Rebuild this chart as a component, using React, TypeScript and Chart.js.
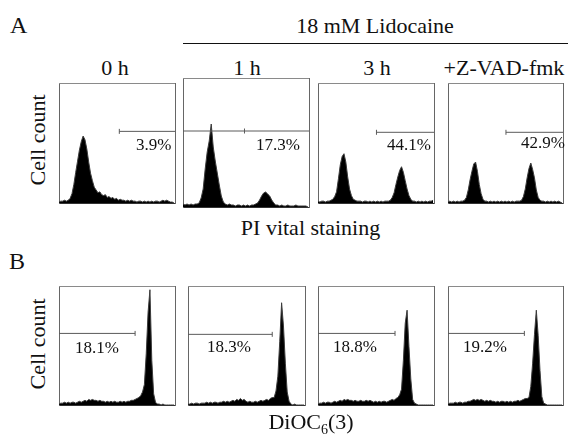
import React, { useEffect, useRef } from "react";
import { Chart, registerables } from "chart.js";

Chart.register(...registerables);

// ---------------- data ----------------
const timeLabels = ["0 h", "1 h", "3 h", "+Z-VAD-fmk"];
const piPercents = ["3.9%", "17.3%", "44.1%", "42.9%"];
const diocPercents = ["18.1%", "18.3%", "18.8%", "19.2%"];

const BIN = 4; // channels per histogram bin
const CHANNEL_MAX = 250;

// PI vital staining histograms (cell count per bin)
const pi0h = [1,2,2,3,2,3,5,10,20,33,45,57,66,72,68,58,44,32,24,17,14,11,12,9,8,9,6,7,5,6,4,5,3,4,3,3,2,3,2,3,2,2,1,2,2,1,2,1,2,1,2,1,2,2,1,2,3,2,3,2,1,1,0];
const pi1h = [3,2,3,2,3,2,3,3,4,9,18,38,55,66,83,60,46,34,22,11,5,3,2,3,2,2,1,2,2,1,2,1,2,1,2,2,3,4,7,11,14,15,13,11,7,4,2,2,1,2,1,1,2,1,1,1,2,1,1,1,1,1,0];
const pi3h = [2,1,2,2,1,2,2,3,4,7,12,26,41,50,53,44,28,15,8,4,3,2,2,2,1,2,2,1,2,1,2,1,2,1,2,1,2,2,2,3,6,11,20,28,35,39,33,24,15,8,4,2,2,1,2,1,2,1,2,1,2,2,3];
const piZvad = [1,2,1,2,1,2,1,2,2,3,6,14,25,34,42,44,34,20,10,4,2,2,1,2,1,2,1,2,1,2,1,2,1,2,1,2,1,2,2,2,3,7,15,27,37,43,36,27,14,6,3,2,2,1,2,1,2,1,2,1,2,1,0];

// DiOC6(3) histograms
const dioc0h = [1,2,2,3,2,3,2,3,3,2,3,4,3,4,5,4,6,5,6,5,5,4,5,4,4,3,4,3,4,3,4,3,3,4,3,4,3,4,4,5,5,6,7,8,10,14,22,55,100,124,48,12,3,1,1,0,1,0,0,0,0,0,0];
const dioc1h = [1,1,2,1,2,2,1,2,2,2,3,2,3,2,3,3,2,3,3,4,3,4,3,4,5,4,6,5,7,5,6,4,3,4,3,3,4,3,4,5,4,5,6,5,7,8,8,15,31,68,110,85,45,14,4,1,0,1,0,0,0,0,0];
const dioc3h = [1,2,2,3,2,3,3,2,3,4,3,4,5,4,6,5,6,5,5,4,5,4,4,5,4,4,5,4,5,4,3,4,3,4,3,4,4,3,4,5,6,5,7,8,11,17,48,88,102,63,28,6,2,1,0,0,0,0,0,0,0,0,0];
const diocZvad = [1,2,2,2,3,2,3,3,2,3,3,4,4,5,6,5,6,5,6,5,4,5,4,5,4,4,3,4,3,4,4,3,4,3,4,3,4,4,5,4,5,6,7,7,8,20,45,76,102,75,37,9,2,1,0,0,0,0,0,0,0,0,0];

// gates (in channels) and gate level (cell count)
const piGateFrom = [130, 0, 126, 126];
const piGateTo = [250, 250, 250, 250];
const piGateMark = [130, 122, 126, 126];
const piGateLevel = [77, 76, 76, 76];
const diocGateFrom = [0, 0, 0, 0];
const diocGateTo = [164, 180, 166, 166];
const diocGateMark = [164, 180, 166, 166];
const diocGateLevel = [77, 76, 77, 77];

const piSeries = [pi0h, pi1h, pi3h, piZvad];
const diocSeries = [dioc0h, dioc1h, dioc3h, diocZvad];

// ---------------- layout ----------------
const PANEL_LEFT = [54, 183, 313, 443];
const PANEL_W = [125, 126, 125, 124];
const ROW_TOP = [78, 281];
const ROW_H = [129, 128];
const PI_PCT_POS = [[136, 150], [256, 150], [387, 150.5], [521, 148]];
const DIOC_PCT_POS = [[75, 353], [207, 352], [333, 352], [463, 352]];
const TIME_CENTERS = [115, 247, 377, 504];

const FONT = '"Liberation Serif", "Times New Roman", "DejaVu Serif", serif';
const BASE_RATIO = 0.8375; // baseline offset for line-height = font-size

type HistoProps = {
  left: number;
  top: number;
  width: number;
  height: number;
  values: number[];
  gateFrom: number;
  gateTo: number;
  gateMark: number;
  gateLevel: number;
};

function Histogram(p: HistoProps) {
  const ref = useRef<HTMLCanvasElement | null>(null);
  useEffect(() => {
    if (!ref.current) return;
    const pts = p.values.map((v, i) => ({ x: i * BIN, y: v }));
    const gxs = Array.from(new Set([p.gateFrom, p.gateMark, p.gateTo])).sort((a, b) => a - b);
    const gatePts = gxs.map((x) => ({ x, y: p.gateLevel }));
    const radii = gxs.map((x) => (x === p.gateMark ? 2.5 : 0));
    const borderAxis = (pos: string, axis: string, max: number, color: string) => ({
      type: "linear",
      position: pos,
      axis,
      min: 0,
      max,
      display: true,
      grid: { display: false, drawTicks: false },
      ticks: { display: false },
      border: { display: true, color, width: 1 },
    });
    const chart = new Chart(ref.current, {
      type: "line",
      data: {
        datasets: [
          {
            data: pts,
            fill: "origin",
            backgroundColor: "#000",
            borderColor: "#3c3c3c",
            borderWidth: 1,
            pointRadius: 0,
            tension: 0,
            order: 2,
          },
          {
            data: gatePts,
            fill: false,
            borderColor: "#5a5a5a",
            borderWidth: 1,
            pointStyle: "line",
            pointRotation: 90,
            pointRadius: radii,
            pointBorderColor: "#5a5a5a",
            pointBorderWidth: 1,
            tension: 0,
            order: 1,
          },
        ],
      } as any,
      options: {
        responsive: false,
        maintainAspectRatio: false,
        animation: false,
        events: [],
        layout: { padding: { left: 0, top: 0, right: 1, bottom: 1 } },
        plugins: { legend: { display: false }, tooltip: { enabled: false }, title: { display: false } },
        scales: {
          x: borderAxis("bottom", "x", CHANNEL_MAX, "#333"),
          y: borderAxis("left", "y", p.height, "#666"),
          xTop: borderAxis("top", "x", CHANNEL_MAX, "#8a8a8a"),
          yRight: borderAxis("right", "y", p.height, "#666"),
        },
      } as any,
    });
    return () => chart.destroy();
  }, []);
  return (
    <canvas
      ref={ref}
      width={p.width + 1}
      height={p.height + 1}
      style={{ position: "absolute", left: p.left, top: p.top, width: p.width + 1, height: p.height + 1 }}
    />
  );
}

function Txt(props: { x: number; base: number; size: number; align?: "left" | "center"; children: any }) {
  const { x, base, size, align = "left", children } = props;
  const style: any = {
    position: "absolute",
    top: base - BASE_RATIO * size,
    fontFamily: FONT,
    fontSize: size,
    lineHeight: size + "px",
    whiteSpace: "nowrap",
    color: "#111",
  };
  if (align === "center") {
    style.left = x - 150;
    style.width = 300;
    style.textAlign = "center";
  } else {
    style.left = x;
  }
  return <div style={style}>{children}</div>;
}

function RotTxt(props: { baseX: number; cy: number; size: number; children: any }) {
  const { baseX, cy, size, children } = props;
  const cx = baseX - (BASE_RATIO - 0.5) * size;
  return (
    <div
      style={{
        position: "absolute",
        left: cx - 100,
        top: cy - size / 2,
        width: 200,
        height: size,
        lineHeight: size + "px",
        fontFamily: FONT,
        fontSize: size,
        textAlign: "center",
        whiteSpace: "nowrap",
        color: "#111",
        transform: "rotate(-90deg)",
        transformOrigin: "50% 50%",
      }}
    >
      {children}
    </div>
  );
}

export default function App() {
  return (
    <div
      style={{
        position: "fixed",
        left: 0,
        top: 0,
        width: 568,
        height: 440,
        background: "#fff",
        overflow: "hidden",
      }}
    >
      <Txt x={10} base={33} size={24}>A</Txt>
      <Txt x={9} base={269} size={24}>B</Txt>
      <Txt x={375} base={33} size={22} align="center">18 mM Lidocaine</Txt>
      <div style={{ position: "absolute", left: 183, top: 43, width: 385, height: 1, background: "#111" }} />
      {timeLabels.map((t, i) => (
        <Txt key={t} x={TIME_CENTERS[i]} base={75} size={22} align="center">{t}</Txt>
      ))}
      <RotTxt baseX={45} cy={140} size={22}>Cell count</RotTxt>
      <RotTxt baseX={45} cy={344} size={22}>Cell count</RotTxt>

      {piSeries.map((vals, i) => (
        <Histogram
          key={"pi" + i}
          left={PANEL_LEFT[i]}
          top={ROW_TOP[0]}
          width={PANEL_W[i]}
          height={ROW_H[0]}
          values={vals}
          gateFrom={piGateFrom[i]}
          gateTo={piGateTo[i]}
          gateMark={piGateMark[i]}
          gateLevel={piGateLevel[i]}
        />
      ))}
      {diocSeries.map((vals, i) => (
        <Histogram
          key={"dioc" + i}
          left={PANEL_LEFT[i]}
          top={ROW_TOP[1]}
          width={PANEL_W[i]}
          height={ROW_H[1]}
          values={vals}
          gateFrom={diocGateFrom[i]}
          gateTo={diocGateTo[i]}
          gateMark={diocGateMark[i]}
          gateLevel={diocGateLevel[i]}
        />
      ))}
      {piPercents.map((t, i) => (
        <Txt key={"pp" + i} x={PI_PCT_POS[i][0]} base={PI_PCT_POS[i][1]} size={17}>{t}</Txt>
      ))}
      {diocPercents.map((t, i) => (
        <Txt key={"dp" + i} x={DIOC_PCT_POS[i][0]} base={DIOC_PCT_POS[i][1]} size={17}>{t}</Txt>
      ))}
      <Txt x={310.5} base={235} size={22} align="center">PI vital staining</Txt>
      <Txt x={311} base={429} size={22} align="center">
        DiOC<span style={{ fontSize: 14, position: "relative", top: 5 }}>6</span>(3)
      </Txt>
    </div>
  );
}
